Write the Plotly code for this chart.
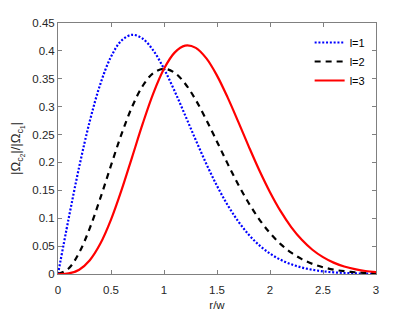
import plotly.graph_objects as go

r = [round(0.1 * i, 1) for i in range(31)]

l1 = [0, 0.0990, 0.1922, 0.2742, 0.3409, 0.3894, 0.4186, 0.4288, 0.4218, 0.4004,
      0.3679, 0.3280, 0.2843, 0.2399, 0.1972, 0.1581, 0.1237, 0.0945, 0.0705, 0.0514,
      0.0366, 0.0255, 0.0174, 0.0116, 0.0076, 0.0048, 0.0030, 0.0018, 0.0011, 0.0006, 0.0004]
l2 = [0, 0.0099, 0.0384, 0.0823, 0.1363, 0.1947, 0.2512, 0.3002, 0.3375, 0.3603,
      0.3679, 0.3608, 0.3412, 0.3118, 0.2761, 0.2372, 0.1979, 0.1606, 0.1269, 0.0977,
      0.0733, 0.0536, 0.0383, 0.0267, 0.0181, 0.0121, 0.0078, 0.0050, 0.0031, 0.0019, 0.0011]
l3 = [0, 0.0010, 0.0077, 0.0247, 0.0545, 0.0974, 0.1507, 0.2101, 0.2700, 0.3243,
      0.3679, 0.3969, 0.4094, 0.4054, 0.3865, 0.3557, 0.3166, 0.2731, 0.2284, 0.1855,
      0.1466, 0.1126, 0.0842, 0.0613, 0.0435, 0.0302, 0.0204, 0.0134, 0.0086, 0.0054, 0.0033]

names = ["l=1", "l=2", "l=3"]
xticks = [0, 0.5, 1, 1.5, 2, 2.5, 3]
xticklabels = ["0", "0.5", "1", "1.5", "2", "2.5", "3"]
yticks = [0, 0.05, 0.1, 0.15, 0.2, 0.25, 0.3, 0.35, 0.4, 0.45]
yticklabels = ["0", "0.05", "0.1", "0.15", "0.2", "0.25", "0.3", "0.35", "0.4", "0.45"]

font = "Liberation Sans, Arial, sans-serif"
fig = go.Figure()
fig.add_trace(go.Scatter(x=r, y=l1, name=names[0], mode="lines", line_shape="spline",
                         line=dict(color="#0000ff", width=2.2, dash="2px,1.8px")))
fig.add_trace(go.Scatter(x=r, y=l2, name=names[1], mode="lines", line_shape="spline",
                         line=dict(color="#000000", width=2.2, dash="6px,5px")))
fig.add_trace(go.Scatter(x=r, y=l3, name=names[2], mode="lines", line_shape="spline",
                         line=dict(color="#ff0000", width=2.2)))

axis_common = dict(showgrid=False, zeroline=False, showline=True, mirror="ticks",
                   linecolor="#808080", linewidth=1, ticks="inside", ticklen=4,
                   tickcolor="#808080", automargin=False,
                   tickfont=dict(family=font, size=11.5, color="#262626"))
# page has an 8px body margin, so the figure is 8px smaller and margins shifted
fig.update_layout(
    width=407, height=304,
    margin=dict(l=50, r=39, t=15, b=38),
    paper_bgcolor="white", plot_bgcolor="white",
    font=dict(family=font, size=11.5, color="#262626"),
    xaxis=dict(range=[0, 3], tickvals=xticks, ticktext=xticklabels, ticklabelstandoff=5,
               title=dict(text="r/w", font=dict(size=11.5), standoff=6), **axis_common),
    yaxis=dict(range=[0, 0.45], tickvals=yticks, ticktext=yticklabels,
               title=dict(text="|Ω<sub>c<sub>2</sub></sub>|/|Ω<sub>c<sub>1</sub></sub>|",
                          font=dict(size=13), standoff=13), **axis_common),
    legend=dict(x=0.98, y=0.98, xanchor="right", yanchor="top", bgcolor="rgba(0,0,0,0)",
                font=dict(family=font, size=11, color="#000"), tracegroupgap=0, itemwidth=30),
    showlegend=True,
)
fig.write_html("out.html")
